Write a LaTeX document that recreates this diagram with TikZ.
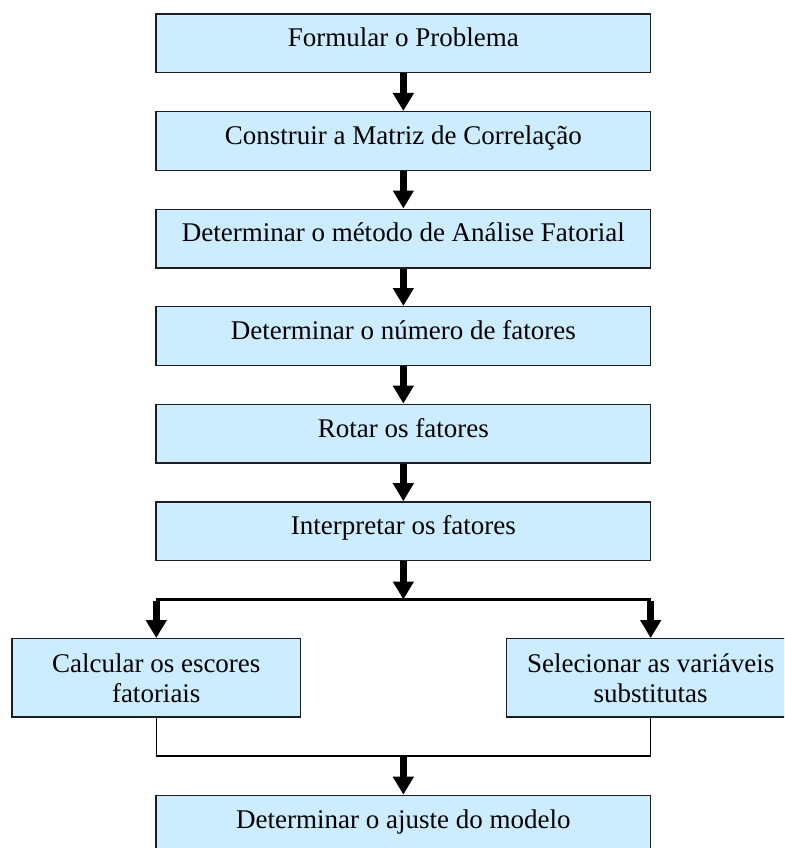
\documentclass[tikz,border=0pt]{standalone}
\usepackage{fontspec}
\setmainfont{Liberation Serif}
\usetikzlibrary{arrows.meta}
\definecolor{boxfill}{RGB}{204,236,255}
\definecolor{boxline}{RGB}{30,30,30}
\begin{document}
\begin{tikzpicture}[x=1pt,y=-1pt,
  box/.style={draw=boxline, line width=1.3pt, fill=boxfill, rectangle,
    inner sep=0pt, align=center, font=\fontsize{27}{30}\selectfont},
  stagebox/.style={box, minimum width=494.7pt, minimum height=58.7pt,
    text height=18pt, text depth=11.2pt},
  sidebox/.style={box, minimum width=288.5pt, minimum height=78.3pt},
  flow/.style={line width=6.5pt, -{Triangle[width=20pt,length=18pt]}},
  branchline/.style={line width=2.2pt},
  mergeline/.style={line width=1.3pt}]
\useasboundingbox (0,0) rectangle (784,848);
\clip (0,0) rectangle (784,848);

% main sequence of stages
\node[stagebox] (s1) at (403.35,43.4)  {Formular o Problema};
\node[stagebox] (s2) at (403.35,141.0) {Construir a Matriz de Correlação};
\node[stagebox] (s3) at (403.35,238.5) {Determinar o método de Análise Fatorial};
\node[stagebox] (s4) at (403.35,336.0) {Determinar o número de fatores};
\node[stagebox] (s5) at (403.35,433.6) {Rotar os fatores};
\node[stagebox] (s6) at (403.35,531.2) {Interpretar os fatores};

% the two alternative paths
\node[sidebox] (left)  at (156.25,677.85) {Calcular os escores\\fatoriais};
\node[sidebox] (right) at (650.7,677.85)  {Selecionar as variáveis\\substitutas};

% final stage
\node[stagebox] (s7) at (403.35,824.65) {Determinar o ajuste do modelo};

% arrows between stages
\draw[flow] (s1.south) -- (s2.north);
\draw[flow] (s2.south) -- (s3.north);
\draw[flow] (s3.south) -- (s4.north);
\draw[flow] (s4.south) -- (s5.north);
\draw[flow] (s5.south) -- (s6.north);

% split into two paths
\coordinate (split)  at (403.35,599.5);
\coordinate (splitL) at (156.25,599.5);
\coordinate (splitR) at (650.7,599.5);
\draw[flow] (s6.south) -- (split);
\draw[branchline] (splitL) -- (splitR);
\draw[flow] ([yshift=-1.1pt]splitL) -- (left.north);
\draw[flow] ([yshift=-1.1pt]splitR) -- (right.north);

% paths merge again
\coordinate (merge) at (403.35,756);
\draw[mergeline] (left.south) |- (merge) -| (right.south);
\draw[flow] (merge) -- (s7.north);
\end{tikzpicture}
\end{document}
